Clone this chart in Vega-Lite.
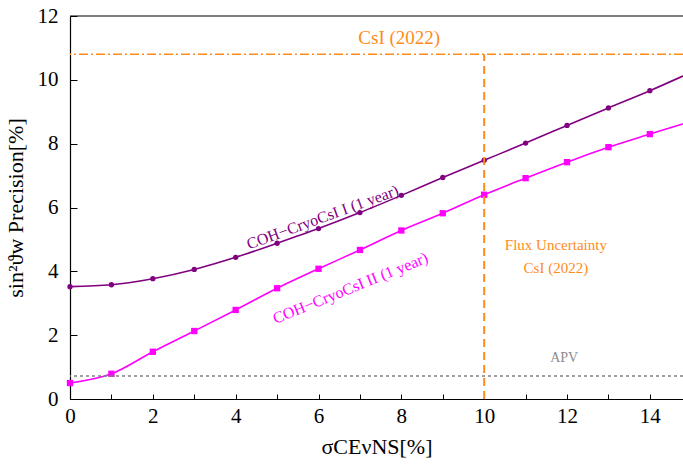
{
  "$schema": "https://vega.github.io/schema/vega-lite/v6.json",
  "width": 613,
  "height": 383,
  "autosize": {"type": "none"},
  "padding": {"left": 70, "top": 16, "right": 0, "bottom": 65},
  "config": {
    "view": {"stroke": null},
    "font": "Liberation Serif"
  },
  "datasets": {
    "curves": [
      {"series": "I", "x": 0, "y": 3.52},
      {"series": "I", "x": 1, "y": 3.58},
      {"series": "I", "x": 2, "y": 3.77},
      {"series": "I", "x": 3, "y": 4.06},
      {"series": "I", "x": 4, "y": 4.44},
      {"series": "I", "x": 5, "y": 4.88},
      {"series": "I", "x": 6, "y": 5.34},
      {"series": "I", "x": 7, "y": 5.84},
      {"series": "I", "x": 8, "y": 6.38},
      {"series": "I", "x": 9, "y": 6.94},
      {"series": "I", "x": 10, "y": 7.48},
      {"series": "I", "x": 11, "y": 8.02},
      {"series": "I", "x": 12, "y": 8.57},
      {"series": "I", "x": 13, "y": 9.12},
      {"series": "I", "x": 14, "y": 9.66},
      {"series": "I", "x": 14.8, "y": 10.12},
      {"series": "II", "x": 0, "y": 0.5},
      {"series": "II", "x": 1, "y": 0.79},
      {"series": "II", "x": 2, "y": 1.48},
      {"series": "II", "x": 3, "y": 2.13},
      {"series": "II", "x": 4, "y": 2.79},
      {"series": "II", "x": 5, "y": 3.47},
      {"series": "II", "x": 6, "y": 4.08},
      {"series": "II", "x": 7, "y": 4.67},
      {"series": "II", "x": 8, "y": 5.28},
      {"series": "II", "x": 9, "y": 5.82},
      {"series": "II", "x": 10, "y": 6.4},
      {"series": "II", "x": 11, "y": 6.92},
      {"series": "II", "x": 12, "y": 7.42},
      {"series": "II", "x": 13, "y": 7.89},
      {"series": "II", "x": 14, "y": 8.3},
      {"series": "II", "x": 14.8, "y": 8.62}
    ]
  },
  "layer": [
    {
      "data": {"name": "curves"},
      "mark": {"type": "line", "interpolate": "monotone", "strokeWidth": 1.6},
      "encoding": {
        "x": {
          "field": "x", "type": "quantitative",
          "scale": {"domain": [0, 14.8], "nice": false, "zero": false},
          "axis": {
            "title": "σCEνNS[%]",
            "values": [0,0.5,1,1.5,2,2.5,3,3.5,4,4.5,5,5.5,6,6.5,7,7.5,8,8.5,9,9.5,10,10.5,11,11.5,12,12.5,13,13.5,14,14.5],
            "format": "d",
            "labelExpr": "datum.value % 2 === 0 ? datum.label : ''",
            "grid": false,
            "tickColor": "#000000",
            "tickWidth": 1,
            "tickSize": -5,
            "domainColor": "#000000",
            "domainWidth": 1.2,
            "labelFont": "Liberation Serif",
            "labelFontSize": 21,
            "labelColor": "#000000",
            "labelPadding": 11,
            "labelFlush": false,
            "titleFont": "Liberation Serif",
            "titleFontSize": 22,
            "titleFontWeight": "normal",
            "titleColor": "#000000",
            "titlePadding": 10
          }
        },
        "y": {
          "field": "y", "type": "quantitative",
          "scale": {"domain": [0, 12], "nice": false, "zero": false},
          "axis": {
            "title": "sin²ϑw Precision[%]",
            "values": [0,2,4,6,8,10,12],
            "format": "d",
            "grid": false,
            "tickColor": "#000000",
            "tickWidth": 1,
            "tickSize": -7,
            "domainColor": "#000000",
            "domainWidth": 1.2,
            "labelFont": "Liberation Serif",
            "labelFontSize": 21,
            "labelColor": "#000000",
            "labelPadding": 19,
            "labelFlush": false,
            "titleFont": "Liberation Serif",
            "titleFontSize": 22,
            "titleFontWeight": "normal",
            "titleColor": "#000000",
            "titlePadding": 10
          }
        },
        "color": {
          "field": "series", "type": "nominal",
          "scale": {"domain": ["I", "II"], "range": ["#800080", "#ff00ff"]},
          "legend": null
        }
      }
    },
    {
      "data": {"name": "curves"},
      "transform": [{"filter": "datum.series === 'I' && datum.x <= 14"}],
      "mark": {"type": "circle", "size": 28, "color": "#800080", "opacity": 1},
      "encoding": {
        "x": {"field": "x", "type": "quantitative"},
        "y": {"field": "y", "type": "quantitative"}
      }
    },
    {
      "data": {"name": "curves"},
      "transform": [{"filter": "datum.series === 'II' && datum.x <= 14"}],
      "mark": {"type": "square", "size": 40, "color": "#ff00ff", "opacity": 1},
      "encoding": {
        "x": {"field": "x", "type": "quantitative"},
        "y": {"field": "y", "type": "quantitative"}
      }
    },
    {
      "data": {"values": [{}]},
      "mark": {"type": "rule", "color": "#000000", "strokeWidth": 1.2},
      "encoding": {"y": {"datum": 12}}
    },
    {
      "data": {"values": [{}]},
      "mark": {"type": "rule", "color": "#ff8c1a", "strokeWidth": 1.5, "strokeDash": [9, 3, 2, 3]},
      "encoding": {"y": {"datum": 10.8}}
    },
    {
      "data": {"values": [{}]},
      "mark": {"type": "rule", "color": "#ff8c1a", "strokeWidth": 2, "strokeDash": [8, 5]},
      "encoding": {
        "x": {"datum": 10},
        "y": {"datum": 0},
        "y2": {"datum": 10.8}
      }
    },
    {
      "data": {"values": [{}]},
      "mark": {"type": "rule", "color": "#808080", "strokeWidth": 1.3, "strokeDash": [3, 3]},
      "encoding": {"y": {"datum": 0.72}}
    },
    {
      "data": {"values": [{}]},
      "mark": {"type": "text", "color": "#800080", "angle": -20, "fontSize": 16, "font": "Liberation Serif", "align": "center", "baseline": "middle"},
      "encoding": {
        "x": {"datum": 6.1},
        "y": {"datum": 5.69},
        "text": {"value": "COH−CryoCsI I (1 year)"}
      }
    },
    {
      "data": {"values": [{}]},
      "mark": {"type": "text", "color": "#ff00ff", "angle": -22, "fontSize": 16, "font": "Liberation Serif", "align": "center", "baseline": "middle"},
      "encoding": {
        "x": {"datum": 6.77},
        "y": {"datum": 3.47},
        "text": {"value": "COH−CryoCsI II (1 year)"}
      }
    },
    {
      "data": {"values": [{}]},
      "mark": {"type": "text", "color": "#ff8c1a", "fontSize": 15, "font": "Liberation Serif", "align": "center", "baseline": "middle"},
      "encoding": {
        "x": {"datum": 11.73},
        "y": {"datum": 4.81},
        "text": {"value": "Flux Uncertainty"}
      }
    },
    {
      "data": {"values": [{}]},
      "mark": {"type": "text", "color": "#ff8c1a", "fontSize": 15, "font": "Liberation Serif", "align": "center", "baseline": "middle"},
      "encoding": {
        "x": {"datum": 11.73},
        "y": {"datum": 4.1},
        "text": {"value": "CsI (2022)"}
      }
    },
    {
      "data": {"values": [{}]},
      "mark": {"type": "text", "color": "#ff8c1a", "fontSize": 19, "font": "Liberation Serif", "align": "center", "baseline": "middle"},
      "encoding": {
        "x": {"datum": 7.95},
        "y": {"datum": 11.31},
        "text": {"value": "CsI (2022)"}
      }
    },
    {
      "data": {"values": [{}]},
      "mark": {"type": "text", "color": "#8c8c8c", "fontSize": 14, "font": "Liberation Serif", "align": "center", "baseline": "middle"},
      "encoding": {
        "x": {"datum": 11.93},
        "y": {"datum": 1.28},
        "text": {"value": "APV"}
      }
    }
  ]
}
